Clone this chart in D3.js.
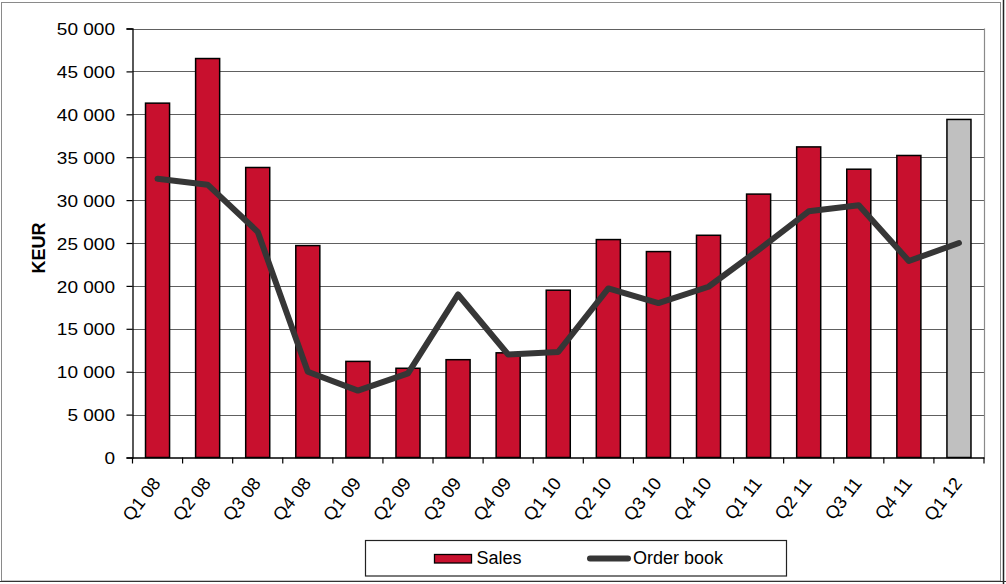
<!DOCTYPE html>
<html>
<head>
<meta charset="utf-8">
<script src="https://cdn.jsdelivr.net/npm/d3@7"></script>
<style>
  html, body { margin: 0; padding: 0; background: #fff; }
  svg { display: block; font-family: "Liberation Sans", Arial, sans-serif; }
</style>
</head>
<body>
<svg id="chart" width="1006" height="584"></svg>
<script>
const categories = ["Q1 08","Q2 08","Q3 08","Q4 08","Q1 09","Q2 09","Q3 09","Q4 09",
                    "Q1 10","Q2 10","Q3 10","Q4 10","Q1 11","Q2 11","Q3 11","Q4 11","Q1 12"];
const sales     = [41300, 46500, 33800, 24700, 11200, 10400, 11400, 12200,
                   19500, 25400, 24000, 25900, 30700, 36200, 33600, 35200, 39400];
const orderBook = [32500, 31800, 26300, 10000, 7800, 9800, 19000, 12000,
                   12300, 19700, 18000, 19900, 24200, 28700, 29400, 22900, 25000];
const highlighted = ["Q1 12"];
const yTicks = [0, 5000, 10000, 15000, 20000, 25000, 30000, 35000, 40000, 45000, 50000];
const seriesNames = ["Sales", "Order book"];
const yTitle = "KEUR";

(function () {
const svg = d3.select("#chart");
const pLeft = 132.5, pRight = 984, pTop = 28.5, pBottom = 457.5;

// outer frame
svg.append("rect").attr("x", 1.5).attr("y", 2.5).attr("width", 999).attr("height", 578.5)
  .attr("fill", "#fff").attr("stroke", "#8a8a8a").attr("stroke-width", 1);
svg.append("line").attr("x1", 1003.5).attr("x2", 1003.5).attr("y1", 0).attr("y2", 584)
  .attr("stroke", "#222").attr("stroke-width", 1.5);
svg.append("line").attr("x1", 0).attr("x2", 1006).attr("y1", 581.5).attr("y2", 581.5)
  .attr("stroke", "#333").attr("stroke-width", 1.2);

const x = d3.scaleBand().domain(categories).range([pLeft, pRight]).paddingInner(0.52).paddingOuter(0.26);
const xCat = d3.scaleBand().domain(categories).range([pLeft, pRight]).padding(0);
const y = d3.scaleLinear().domain([0, 50000]).range([pBottom, pTop]);

// gridlines
svg.append("g").selectAll("line").data(yTicks.filter(d => d > 0)).join("line")
  .attr("x1", pLeft).attr("x2", pRight)
  .attr("y1", d => Math.round(y(d)) + 0.5).attr("y2", d => Math.round(y(d)) + 0.5)
  .attr("stroke", "#606060").attr("stroke-width", 1.2);

// right border of plot area
svg.append("line").attr("x1", pRight + 0.5).attr("x2", pRight + 0.5).attr("y1", pTop).attr("y2", pBottom)
  .attr("stroke", "#8a8a8a").attr("stroke-width", 1.2);

// bars
svg.append("g").selectAll("rect").data(categories).join("rect")
  .attr("x", d => x(d))
  .attr("y", (d, i) => y(sales[i]))
  .attr("width", x.bandwidth())
  .attr("height", (d, i) => y(0) - y(sales[i]))
  .attr("fill", d => highlighted.includes(d) ? "#C0C0C0" : "#C8102E")
  .attr("stroke", "#000").attr("stroke-width", 1.5);

// y axis
const fmt = v => d3.format(",")(v).replace(/,/g, " ");
const yAxis = d3.axisLeft(y).tickValues(yTicks).tickSize(6).tickPadding(0).tickFormat(fmt);
const gy = svg.append("g").attr("transform", `translate(${pLeft},0)`).call(yAxis);
gy.select(".domain").attr("stroke", "#000").attr("stroke-width", 1.3);
gy.selectAll(".tick line").attr("stroke", "#000").attr("stroke-width", 1.2);
gy.selectAll(".tick text")
  .attr("x", null).attr("dy", null)
  .attr("font-size", 17).attr("fill", "#000")
  .attr("text-anchor", "end").attr("dominant-baseline", "central")
  .attr("transform", "translate(-17.5,0.5) scale(1.12,1)");

// x axis
const xAxis = d3.axisBottom(xCat).tickSize(0).tickFormat(() => "");
const gx = svg.append("g").attr("transform", `translate(0,${pBottom})`).call(xAxis);
gx.select(".domain").attr("stroke", "#000").attr("stroke-width", 1.3);
gx.selectAll(".tick").remove();
const bounds = categories.map(c => xCat(c)).concat([xCat(categories[categories.length - 1]) + xCat.bandwidth()]);
gx.selectAll("line.bt").data(bounds).join("line").attr("class", "bt")
  .attr("x1", d => d).attr("x2", d => d).attr("y1", 0).attr("y2", 6)
  .attr("stroke", "#000").attr("stroke-width", 1.2);
gx.selectAll("text.lab").data(categories).join("text").attr("class", "lab")
  .attr("text-anchor", "end").attr("font-size", 18).attr("fill", "#000")
  .attr("transform", d => `translate(${xCat(d) + xCat.bandwidth() / 2 + 4},26) rotate(-52)`)
  .text(d => d);

// line
const line = d3.line().x((d, i) => x(categories[i]) + x.bandwidth() / 2).y(d => y(d));
svg.append("path").datum(orderBook).attr("d", line)
  .attr("fill", "none").attr("stroke", "#363636").attr("stroke-width", 6)
  .attr("stroke-linejoin", "round").attr("stroke-linecap", "round");

// y title
svg.append("text").attr("transform", "translate(45,248) rotate(-90)")
  .attr("text-anchor", "middle").attr("font-size", 18).attr("font-weight", "bold")
  .text(yTitle);

// legend
const lg = svg.append("g");
lg.append("rect").attr("x", 365.5).attr("y", 540.5).attr("width", 421).attr("height", 35.5)
  .attr("fill", "#fff").attr("stroke", "#222").attr("stroke-width", 1.2);
lg.append("rect").attr("x", 434.5).attr("y", 554.5).attr("width", 37).attr("height", 8.5)
  .attr("fill", "#C8102E").attr("stroke", "#000").attr("stroke-width", 1.3);
lg.append("text").attr("x", 476.5).attr("y", 564).attr("font-size", 18).text(seriesNames[0]);
lg.append("line").attr("x1", 590).attr("x2", 628).attr("y1", 558.5).attr("y2", 558.5)
  .attr("stroke", "#363636").attr("stroke-width", 6).attr("stroke-linecap", "round");
lg.append("text").attr("x", 633).attr("y", 564).attr("font-size", 18).text(seriesNames[1]);
})();
</script>
</body>
</html>
